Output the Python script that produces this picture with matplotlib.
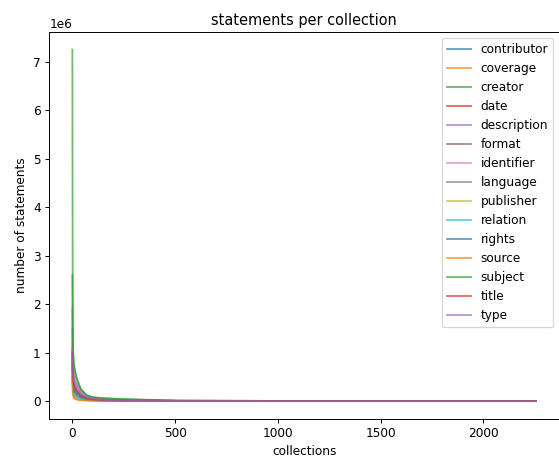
import numpy as np
import matplotlib
matplotlib.use("Agg")
import matplotlib.pyplot as plt

# collection rank (sorted by statement count, descending)
collections = [0, 2, 5, 10, 20, 40, 70, 100, 150, 250, 500, 1000, 2256]

# statements per collection, in millions
contributor = [0.90, 0.55, 0.38, 0.28, 0.20, 0.11, 0.05, 0.03, 0.018, 0.009, 0.003, 0.001, 0.0]
coverage = [1.20, 0.35, 0.12, 0.06, 0.035, 0.02, 0.012, 0.008, 0.005, 0.002, 0.001, 0.0, 0.0]
creator = [7.25, 1.20, 0.80, 0.62, 0.45, 0.24, 0.11, 0.075, 0.055, 0.035, 0.009, 0.002, 0.0]
date = [0.80, 0.50, 0.35, 0.26, 0.19, 0.10, 0.05, 0.03, 0.018, 0.009, 0.003, 0.001, 0.0]
description = [1.50, 0.90, 0.60, 0.45, 0.35, 0.20, 0.09, 0.05, 0.03, 0.015, 0.004, 0.001, 0.0]
format_ = [0.50, 0.30, 0.20, 0.15, 0.10, 0.06, 0.03, 0.02, 0.012, 0.006, 0.002, 0.0, 0.0]
identifier = [1.10, 0.80, 0.55, 0.42, 0.32, 0.18, 0.08, 0.045, 0.028, 0.014, 0.004, 0.001, 0.0]
language = [1.90, 0.60, 0.35, 0.25, 0.18, 0.10, 0.05, 0.03, 0.02, 0.01, 0.003, 0.0, 0.0]
publisher = [0.60, 0.38, 0.26, 0.19, 0.13, 0.07, 0.035, 0.022, 0.014, 0.007, 0.002, 0.0, 0.0]
relation = [0.40, 0.22, 0.14, 0.10, 0.07, 0.04, 0.02, 0.013, 0.008, 0.004, 0.001, 0.0, 0.0]
rights = [0.70, 0.42, 0.28, 0.20, 0.14, 0.08, 0.04, 0.025, 0.015, 0.008, 0.002, 0.0, 0.0]
source = [0.50, 0.18, 0.08, 0.05, 0.03, 0.018, 0.011, 0.007, 0.004, 0.002, 0.001, 0.0, 0.0]
subject = [2.60, 1.30, 0.90, 0.70, 0.50, 0.26, 0.12, 0.08, 0.06, 0.04, 0.01, 0.002, 0.0]
title = [1.00, 0.62, 0.42, 0.32, 0.23, 0.13, 0.06, 0.035, 0.022, 0.011, 0.003, 0.001, 0.0]
type_ = [1.05, 0.75, 0.50, 0.38, 0.28, 0.15, 0.07, 0.04, 0.025, 0.012, 0.004, 0.001, 0.0]

fields = ["contributor", "coverage", "creator", "date", "description", "format",
          "identifier", "language", "publisher", "relation", "rights", "source",
          "subject", "title", "type"]
series = [contributor, coverage, creator, date, description, format_,
          identifier, language, publisher, relation, rights, source,
          subject, title, type_]

DPI = 87
fig, ax = plt.subplots(figsize=(559 / DPI, 457 / DPI), dpi=DPI)
fig.subplots_adjust(left=0.088, right=1.0, bottom=0.084, top=0.93)

for name, vals in zip(fields, series):
    ax.plot(collections, np.array(vals) * 1e6, label=name, alpha=0.7)

ax.set_title("statements per collection")
ax.set_xlabel("collections")
ax.set_ylabel("number of statements")
ax.legend(loc="upper right")

plt.savefig("out.png", dpi=DPI)
